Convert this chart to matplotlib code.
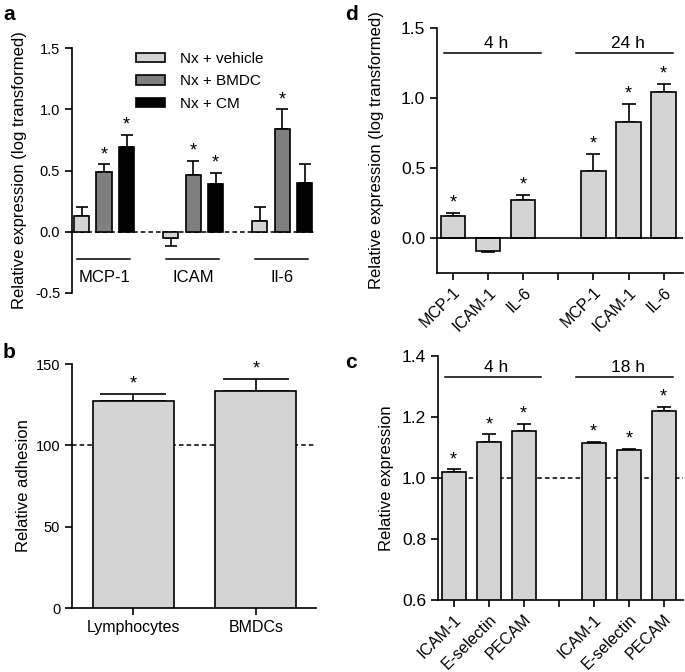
'''
    Four-panel bar chart: endothelial activation after BMDC exposure
'''
from matplotlib import pyplot as plt
import numpy as np

plt.rcParams['font.family'] = ['Liberation Sans', 'DejaVu Sans']
plt.rcParams['axes.unicode_minus'] = False

# Panel a -----------------------------------------------------------
a_genes    = ['MCP-1', 'ICAM', 'Il-6']
a_groups   = ['Nx + vehicle', 'Nx + BMDC', 'Nx + CM']
a_vehicle  = [0.13, -0.05, 0.09]
a_vehicle_sem = [0.07, 0.07, 0.11]
a_bmdc     = [0.49, 0.46, 0.84]
a_bmdc_sem = [0.06, 0.12, 0.16]
a_cm       = [0.69, 0.39, 0.40]
a_cm_sem   = [0.10, 0.09, 0.15]
a_star_bmdc = [True, True, True]
a_star_cm   = [True, True, False]

# Panel b -----------------------------------------------------------
b_cells = ['Lymphocytes', 'BMDCs']
b_vals  = [127.5, 133.5]
b_sem   = [4.0, 7.5]

# Panel d -----------------------------------------------------------
d_labels = ['MCP-1', 'ICAM-1', 'IL-6', '', 'MCP-1', 'ICAM-1', 'IL-6']
d_vals   = [0.16, -0.09, 0.27, None, 0.48, 0.83, 1.04]
d_sem    = [0.02, 0.01, 0.04, None, 0.12, 0.13, 0.06]
d_star   = [True, False, True, False, True, True, True]
d_times  = ['4 h', '24 h']

# Panel c -----------------------------------------------------------
c_labels = ['ICAM-1', 'E-selectin', 'PECAM', '', 'ICAM-1', 'E-selectin', 'PECAM']
c_vals   = [1.02, 1.118, 1.155, None, 1.115, 1.093, 1.220]
c_sem    = [0.008, 0.025, 0.022, None, 0.003, 0.003, 0.013]
c_star   = [True, True, True, False, True, True, True]
c_times  = ['4 h', '18 h']

LIGHT = '#d4d4d4'
MID   = '#7f7f7f'
BAR   = {'edgecolor': 'k', 'linewidth': 1.2, 'zorder': 3}
ERR   = {'ecolor': 'k', 'elinewidth': 1.2, 'capthick': 1.2}
STAR  = 13


def one_sided(vals, sems):
    ''' error bar pointing away from zero '''
    lo = [s if v < 0 else 0 for v, s in zip(vals, sems)]
    hi = [0 if v < 0 else s for v, s in zip(vals, sems)]
    return [lo, hi]


def style(ax, fs):
    for s in ['top', 'right']:
        ax.spines[s].set_visible(False)
    for s in ['left', 'bottom']:
        ax.spines[s].set_linewidth(1.2)
    ax.tick_params(direction='out', length=5, width=1.2, labelsize=fs)


def main():
    W, H = 685., 672.
    fig = plt.figure(figsize=(6.85, 6.72), dpi=100)

    def box(l, r, t, b):
        return [l/W, 1 - b/H, (r - l)/W, (b - t)/H]

    # ---------------- a
    ax = fig.add_axes(box(72, 316, 48, 293))
    style(ax, 10.5)
    ax.spines['bottom'].set_visible(False)
    ax.tick_params(axis='x', bottom=False, labelbottom=False)
    x = np.arange(len(a_genes))
    off, w = 0.253, 0.17
    series = [(a_vehicle, a_vehicle_sem, LIGHT),
              (a_bmdc, a_bmdc_sem, MID),
              (a_cm, a_cm_sem, 'k')]
    for k, (v, s, col) in enumerate(series):
        xx = x + (k - 1)*off
        ax.bar(xx, v, w, color=col, label=a_groups[k], **BAR)
        ax.errorbar(xx, v, yerr=one_sided(v, s), fmt='none', capsize=4,
                    zorder=2, **ERR)
    for i in range(len(a_genes)):
        if a_star_bmdc[i]:
            ax.text(x[i], a_bmdc[i] + a_bmdc_sem[i] + 0.01, '*',
                    ha='center', va='bottom', fontsize=STAR)
        if a_star_cm[i]:
            ax.text(x[i] + off, a_cm[i] + a_cm_sem[i] + 0.01, '*',
                    ha='center', va='bottom', fontsize=STAR)
        ax.plot([x[i] - 0.30, x[i] + 0.29], [-0.22, -0.22], c='k', lw=1.1,
                clip_on=False)
        ax.text(x[i], -0.37, a_genes[i], ha='center', va='center',
                fontsize=12)
    ax.axhline(0, c='k', ls=(0, (3, 2)), lw=1.1, zorder=1)
    ax.set_xlim(-0.36, 2.38)
    ax.set_ylim(-0.5, 1.5)
    ax.set_yticks([-0.5, 0.0, 0.5, 1.0, 1.5])
    ax.set_ylabel('Relative expression (log transformed)', fontsize=12,
                  labelpad=6)
    ax.legend(frameon=False, loc='upper left', bbox_to_anchor=(0.205, 1.04),
              fontsize=11, handlelength=1.9, handleheight=0.6,
              handletextpad=1.0, labelspacing=0.55)

    # ---------------- b
    ax = fig.add_axes(box(72, 316, 364, 608))
    style(ax, 10.5)
    xb = np.arange(len(b_cells))
    ax.bar(xb, b_vals, 0.66, color=LIGHT, **BAR)
    ax.errorbar(xb, b_vals, yerr=[[0, 0], b_sem], fmt='none', capsize=24,
                zorder=2, **ERR)
    for i in range(len(b_cells)):
        ax.text(xb[i], b_vals[i] + b_sem[i] + 1, '*', ha='center',
                va='bottom', fontsize=STAR)
    ax.axhline(100, c='k', ls=(0, (3, 2)), lw=1.1, zorder=1)
    ax.set_xticks(xb)
    ax.set_xticklabels(b_cells, fontsize=11.5)
    ax.set_xlim(-0.5, 1.49)
    ax.set_ylim(0, 150)
    ax.set_yticks([0, 50, 100, 150])
    ax.set_ylabel('Relative adhesion', fontsize=12, labelpad=3)

    # ---------------- d and c
    def timed(ax, labels, vals, sems, stars, times, ybar, base):
        style(ax, 12.5)
        xs = np.arange(len(labels))
        idx = [i for i, v in enumerate(vals) if v is not None]
        v = [vals[i] for i in idx]
        s = [sems[i] for i in idx]
        ax.bar(xs[idx], np.array(v) - base, 0.7, bottom=base, color=LIGHT,
               **BAR)
        ax.errorbar(xs[idx], v, yerr=one_sided(np.array(v) - base, s),
                    fmt='none', capsize=5, zorder=2, **ERR)
        span = ax.get_ylim()[1] - ax.get_ylim()[0]
        for i in idx:
            if stars[i]:
                ax.text(xs[i], vals[i] + sems[i] + 0.005*span, '*',
                        ha='center', va='bottom', fontsize=STAR)
        for (x0, x1), t in zip([(-0.25, 2.5), (3.5, 6.27)], times):
            ax.plot([x0, x1], [ybar, ybar], c='k', lw=1.1, clip_on=False)
            ax.text((x0 + x1)/2 + 0.1, ybar + 0.01*span, t, ha='center',
                    va='bottom', fontsize=12.5)
        ax.set_xticks(xs)
        ax.set_xticklabels(labels, rotation=45, ha='right',
                           rotation_mode='anchor', fontsize=11.5)
        ax.set_xlim(-0.45, 6.55)

    ax = fig.add_axes(box(437, 683, 28, 273))
    ax.set_ylim(-0.25, 1.5)
    timed(ax, d_labels, d_vals, d_sem, d_star, d_times, 1.32, 0.0)
    ax.axhline(0, c='k', lw=1.2, zorder=4)
    ax.set_yticks([0.0, 0.5, 1.0, 1.5])
    ax.set_ylabel('Relative expression (log transformed)', fontsize=12,
                  labelpad=12)

    ax = fig.add_axes(box(438, 683, 356, 600))
    ax.set_ylim(0.6, 1.4)
    timed(ax, c_labels, c_vals, c_sem, c_star, c_times, 1.33, 0.6)
    ax.axhline(1.0, c='k', ls=(0, (3, 2)), lw=1.1, zorder=1)
    ax.set_yticks([0.6, 0.8, 1.0, 1.2, 1.4])
    ax.set_ylabel('Relative expression', fontsize=12, labelpad=6)

    # panel letters
    for t, (px, py) in zip(['a', 'b', 'd', 'c'],
                           [(3, 14), (3, 352), (345, 14), (345, 362)]):
        fig.text(px/W, 1 - py/H, t, fontsize=15, fontweight='bold',
                 va='center', ha='left')

    fig.savefig('out.png', dpi=100)
    plt.close(fig)


if __name__ == '__main__': main()
